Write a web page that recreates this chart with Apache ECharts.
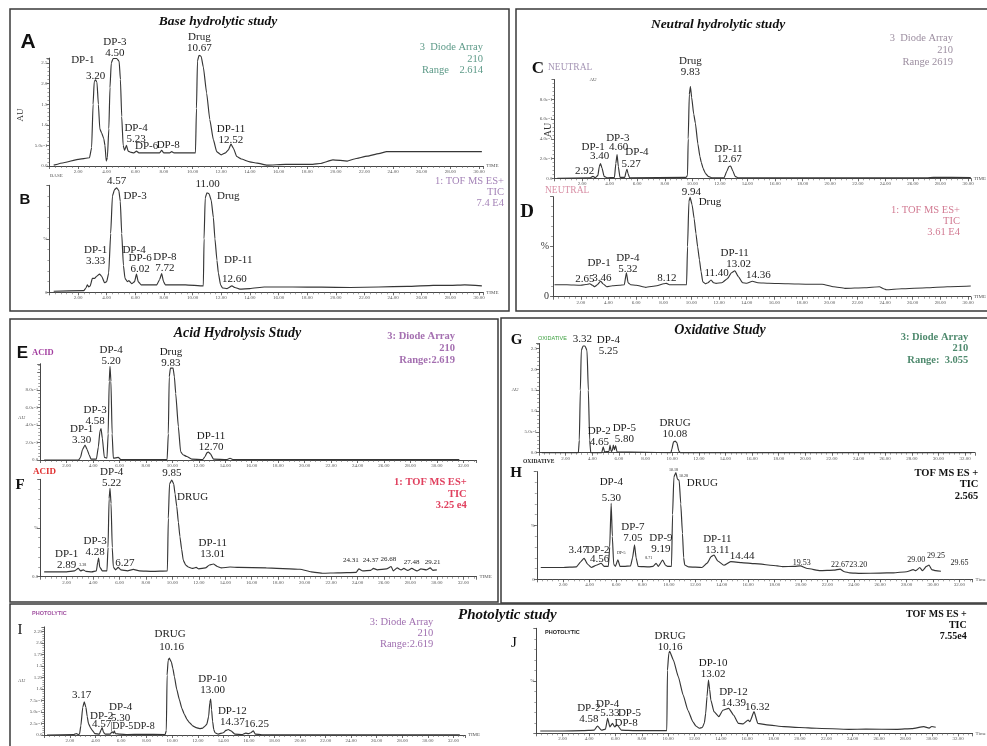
<!DOCTYPE html>
<html><head><meta charset="utf-8">
<script src="https://cdn.jsdelivr.net/npm/echarts@6/dist/echarts.min.js"></script>
<style>html,body{margin:0;padding:0;background:#fff}#c{width:987px;height:746px}</style>
</head><body><div id="c"></div>
<script>
// ---------- chromatogram traces: [retention time (min), response] ----------
const traceA = [[0.3,0.02],[1.0,0.08],[2.0,0.16],[2.8,0.2],[2.95,0.45],[3.05,1.5],[3.13,2.05],[3.22,2.09],[3.32,2.04],[3.42,1.5],[3.52,0.9],[3.65,0.8],[3.8,0.66],[3.88,0.5],[3.97,0.12],[4.05,0.2],[4.15,0.9],[4.23,1.9],[4.32,2.5],[4.45,2.61],[4.7,2.61],[4.87,2.54],[4.96,2.1],[5.05,1.2],[5.15,0.5],[5.25,0.38],[5.38,0.5],[5.5,0.36],[5.7,0.33],[5.9,0.32],[6.08,0.36],[6.25,0.32],[7.0,0.32],[7.7,0.32],[7.84,0.38],[7.98,0.32],[8.4,0.32],[8.54,0.35],[8.7,0.32],[10.2,0.32],[10.27,1.4],[10.34,2.55],[10.45,2.69],[10.6,2.66],[10.75,2.4],[10.98,1.77],[11.2,1.13],[11.45,0.64],[11.68,0.35],[12.0,0.27],[12.3,0.32],[12.5,0.39],[12.68,0.53],[12.85,0.43],[13.08,0.23],[13.4,0.17],[14.0,0.1],[14.5,0.07],[15.2,0.02],[16.5,0.04],[18.4,0.04],[18.9,0.06],[19.8,0.15],[20.8,0.12],[21.3,0.17],[22.2,0.24],[23.0,0.3],[23.55,0.35],[26,0.35],[30.2,0.35]];
const traceB = [[0.3,1],[2.4,1.5],[2.55,4],[2.65,7],[2.75,5],[2.85,6],[3.0,13],[3.15,13],[3.3,15],[3.5,17],[3.65,15],[3.85,9],[4.0,10],[4.14,18],[4.28,55],[4.4,90],[4.55,96],[4.7,97.6],[4.85,95],[4.95,85],[5.05,55],[5.17,25],[5.28,13],[5.45,10],[5.55,11],[5.75,8],[5.95,10],[6.08,17],[6.2,10],[6.4,7],[7.0,7],[7.5,7],[7.7,12],[7.84,17.5],[7.97,10],[8.1,7],[9.5,7],[10.75,6],[10.8,50],[10.88,88],[11.0,93],[11.15,92],[11.3,86],[11.45,70],[11.56,50],[11.7,30],[11.8,18],[11.95,7],[12.1,4],[12.4,3.5],[12.75,6],[12.95,4.5],[13.3,3],[14.0,3.5],[15,5],[17,5],[19,4.8],[21,4.5],[23,5],[25,5.5],[26.8,6.5],[28,6.5],[29,7],[30.2,6]];
const traceC = [[0.2,0],[2.6,0.005],[2.79,0.02],[2.95,0.005],[3.15,0.03],[3.25,0.12],[3.34,0.15],[3.45,0.1],[3.6,0.02],[3.8,0.005],[4.35,0.01],[4.45,0.15],[4.54,0.24],[4.63,0.12],[4.75,0.01],[5.1,0.01],[5.2,0.07],[5.26,0.09],[5.33,0.05],[5.45,0.005],[9.55,0.01],[9.65,0.03],[9.7,0.4],[9.78,0.85],[9.86,0.93],[9.95,0.82],[10.1,0.65],[10.22,0.56],[10.4,0.35],[10.55,0.22],[10.65,0.16],[10.78,0.1],[10.95,0.05],[11.15,0.02],[11.4,0.005],[12.3,0.005],[12.5,0.07],[12.65,0.12],[12.78,0.125],[12.95,0.07],[13.1,0.02],[13.3,0.005],[27,0.005],[27.5,0.01],[30.2,0.008]];
const traceD = [[0.1,12],[1,12],[2,11.5],[2.5,12.5],[2.65,13],[2.85,11.5],[3.0,10],[3.2,12],[3.44,15.7],[3.6,13],[3.87,10],[4.3,11],[4.8,11.5],[5.15,12],[5.3,24],[5.42,14],[5.6,12],[6.0,11.5],[6.7,9.4],[7.5,11],[8.0,13],[8.2,13.4],[8.4,12],[9.0,12],[9.65,12],[9.72,50],[9.82,95],[9.9,99.4],[10.05,92],[10.2,78],[10.33,63],[10.45,50],[10.58,37],[10.7,25],[10.82,15],[11.0,13],[11.2,14],[11.42,16.7],[11.6,14],[11.78,13.4],[12.2,14],[12.6,18],[12.9,24],[13.14,26],[13.4,20],[13.7,14],[14.0,13.5],[14.41,15.5],[14.8,14],[15.6,13.5],[17,13],[18.5,12.5],[19.45,12.5],[20.3,10],[21.1,8.4],[22.5,9],[23.6,10],[23.9,8],[24.1,7],[25.2,8],[27,9],[28.5,10],[30.2,10.7]];
const traceE = [[0.3,0],[2.9,0],[3.05,0.03],[3.2,0.12],[3.39,0.17],[3.55,0.12],[3.7,0.06],[3.85,0.01],[4.25,0.01],[4.4,0.15],[4.52,0.33],[4.6,0.36],[4.7,0.25],[4.85,0.03],[5.05,0.02],[5.14,0.3],[5.22,0.9],[5.28,1.07],[5.35,0.9],[5.44,0.3],[5.53,0.02],[5.9,0.03],[6.1,0.005],[9.6,0.005],[9.69,0.3],[9.76,0.95],[9.85,1.05],[10.05,1.05],[10.15,0.95],[10.25,0.76],[10.45,0.38],[10.62,0.095],[10.8,0.06],[11.08,0.04],[11.46,0.01],[12.3,0.005],[12.47,0.04],[12.62,0.085],[12.72,0.09],[12.88,0.07],[13.1,0.01],[14.1,0.005],[14.36,0.02],[14.6,0.005],[31.7,0.005]];
const traceF = [[0.3,5],[2.0,5],[2.6,6],[2.88,8.6],[3.05,6],[3.26,7],[3.45,5.5],[3.9,5],[4.25,6],[4.35,15],[4.42,19],[4.5,10],[4.7,6],[5.05,6],[5.13,30],[5.21,80],[5.28,90.7],[5.36,75],[5.45,30],[5.53,10],[5.7,7],[5.9,9.6],[6.1,7],[6.6,6],[7.04,7.5],[7.5,6],[8.5,5.5],[9.62,6],[9.69,60],[9.78,95],[9.95,99.3],[10.1,95],[10.2,85],[10.33,72],[10.45,56],[10.57,41],[10.7,28],[10.82,17],[11.0,12],[11.2,10],[11.5,8.5],[11.8,9.5],[12.0,8],[12.5,9],[12.8,12],[13.1,13],[13.4,10.5],[13.7,9],[14.36,10],[15,9.5],[17.1,9],[19.65,7.6],[20.5,5],[21.4,3.5],[22.5,4],[23.9,4.5],[24.1,8],[24.4,6],[25.0,6.5],[25.2,8.5],[25.5,7],[26.2,8],[26.55,10.5],[26.7,6],[27.0,9],[27.3,7],[27.5,8.5],[27.8,6.5],[28.1,8.5],[28.5,6],[28.8,8],[29.2,7],[29.5,9],[29.7,6.5],[30.0,7]];
const traceG = [[0.2,0],[2.95,0],[3.02,0.3],[3.1,1.5],[3.17,2.45],[3.3,2.56],[3.45,2.56],[3.6,2.45],[3.7,1.5],[3.8,0.3],[3.88,0],[4.7,0],[4.82,0.14],[4.92,0.02],[5.25,0.03],[5.33,0.18],[5.42,0.03],[5.5,0.05],[5.58,0.18],[5.66,0.07],[5.75,0.17],[5.85,0.02],[9.9,0],[9.97,0.08],[10.1,0.26],[10.22,0.28],[10.35,0.24],[10.5,0.04],[10.6,0],[32.5,0]];
const traceH = [[0.3,11],[2,11],[3.0,11.5],[3.3,16],[3.58,19.5],[3.85,14],[4.13,11],[4.5,13],[4.88,14.9],[5.1,12],[5.42,12],[5.52,30],[5.63,70.6],[5.72,40],[5.82,14],[5.95,12],[6.14,18],[6.3,12],[6.6,12],[7.1,12.5],[7.25,20],[7.4,31.9],[7.52,20],[7.67,12],[8.5,11.5],[8.8,12],[9.03,14.9],[9.2,12],[9.53,17.9],[9.75,13],[9.9,12],[10.2,12],[10.28,60],[10.38,95],[10.53,99],[10.65,93],[10.78,92],[10.9,70],[11.03,42.7],[11.12,20],[11.2,13.3],[11.5,11.5],[12.5,11],[12.9,15],[13.2,21],[13.42,22.6],[13.7,17],[14.17,13],[14.68,16.4],[15.5,15.5],[16.5,14.5],[18.2,12.5],[18.6,11.8],[19.5,12],[19.95,12.5],[20.5,10],[21.45,8],[22.5,8.5],[22.96,9.5],[23.3,7],[23.7,6],[24.5,5.5],[26,5.8],[27,6],[28.0,7],[28.5,9],[28.7,8],[29.0,11],[29.2,8],[29.5,12],[29.7,13.3],[29.9,9],[30.2,8],[30.6,7.5]];
const traceI = [[0.2,0],[2.3,0.01],[2.5,0.03],[2.65,0.01],[2.75,0.02],[2.85,0.2],[3.0,0.6],[3.12,0.72],[3.25,0.6],[3.35,0.4],[3.45,0.25],[3.6,0.16],[3.75,0.1],[3.95,0.03],[4.3,0.02],[4.42,0.1],[4.52,0.16],[4.62,0.06],[4.75,0.02],[5.15,0.02],[5.3,0.07],[5.4,0.04],[5.47,0.09],[5.55,0.03],[5.9,0.02],[6.5,0.01],[7.6,0.015],[9.45,0.01],[9.54,0.1],[9.6,1.3],[9.68,1.62],[9.77,1.67],[9.93,1.59],[10.05,1.45],[10.17,1.27],[10.35,1.0],[10.56,0.77],[10.75,0.58],[10.95,0.45],[11.15,0.34],[11.35,0.27],[11.6,0.2],[11.87,0.16],[12.15,0.14],[12.39,0.15],[12.55,0.19],[12.7,0.23],[12.85,0.4],[12.94,0.7],[13.01,0.78],[13.08,0.55],[13.16,0.3],[13.25,0.12],[13.35,0.05],[13.6,0.02],[14.0,0.05],[14.2,0.1],[14.39,0.12],[14.6,0.09],[14.9,0.02],[15.5,0.01],[15.75,0.04],[15.95,0.03],[16.15,0.05],[16.35,0.09],[16.5,0.02],[17,0.005],[32.5,0.005]];
const traceJ = [[0.3,2.2],[2,2.2],[3.5,2.5],[4.4,3],[4.64,7],[4.95,3],[5.25,4],[5.41,14.3],[5.58,6],[5.78,9.5],[5.95,6],[6.13,8],[6.45,3],[7.5,2.5],[9.9,2.5],[9.95,60],[10.05,76],[10.12,78],[10.4,69.8],[10.77,54],[11.14,36.5],[11.5,22],[11.88,11],[12.1,7],[12.37,4.8],[12.6,5.5],[12.75,10],[12.85,19],[12.95,35],[13.06,50.8],[13.15,42],[13.24,31.7],[13.48,20.6],[13.85,15.9],[14.15,22],[14.6,23.8],[14.96,17.4],[15.33,9.5],[15.7,9],[16.07,12.7],[16.2,11],[16.52,20.6],[16.8,9.5],[17.5,8],[18.8,6.3],[20,5.5],[21.26,4.8],[23.7,3.8],[25,4],[27.4,3.8],[28.5,4.5],[29.4,6.3],[29.8,5],[30.0,6.5],[30.3,5.7]];

// ---------- axis tick label texts ----------
const auHalfTicks = {'0':'0.0','0.5':'5.0e-1','1':'1.0','1.5':'1.5','2':'2.0','2.5':'2.5'};
const auFifthTicks = {'0':'0.0','0.2':'2.0e-1','0.4':'4.0e-1','0.6':'6.0e-1','0.8':'8.0e-1'};
const auQuarterTicks = {'0':'0.0','0.25':'2.5e-1','0.5':'5.0e-1','0.75':'7.5e-1','1':'1.0','1.25':'1.25','1.5':'1.5','1.75':'1.75','2':'2.0','2.25':'2.25'};
const pctTicks = {'0':'0','50':'%','100':'100'};
const pctTicksF = {'0':'0.0','50':'%','100':'100'};
const pctTicksJ = {'0':'','50':'%','100':'100'};

// ---------- peak annotations: [text, time, response] ----------
const labA = [['DP-1',2.33,2.56],['3.20',3.23,2.18],['DP-3\n4.50',4.58,2.87],['Drug\n10.67',10.47,2.99],['DP-4\n5.23',6.05,0.79],['DP-6',6.79,0.49],['DP-8',8.3,0.51],['DP-11\n12.52',12.68,0.77]];
const labB = [['4.57',4.7,104],['DP-3',5.98,90.3],['11.00',11.05,101],['Drug',12.49,90.3],['DP-1\n3.33',3.23,34],['DP-4',5.91,39.5],['DP-6\n6.02',6.33,26.5],['DP-8\n7.72',8.07,27.4],['DP-11',13.19,30.2],['12.60',12.91,12.1]];
const labC = [['Drug\n9.83',9.86,1.135],['DP-3',4.59,0.405],['DP-1',2.8,0.32],['4.60',4.65,0.32],['3.40',3.27,0.226],['DP-4',5.98,0.27],['5.27',5.55,0.145],['2.92',2.19,0.077],['DP-11',12.62,0.294],['12.67',12.69,0.192]];
const labD = [['9.94',9.99,105],['Drug',11.34,94.4],['DP-1',3.32,33.4],['2.65',2.29,17.7],['3.46',3.53,19],['DP-4\n5.32',5.4,32.9],['8.12',8.23,19],['11.40',11.82,23.4],['DP-11',13.13,43.4],['13.02',13.42,32.4],['14.36',14.85,21.7]];
const labE = [['DP-4\n5.20',5.36,1.19],['Drug\n9.83',9.89,1.17],['DP-3\n4.58',4.15,0.505],['DP-1\n3.30',3.13,0.295],['DP-11\n12.70',12.92,0.215]];
const labF = [['DP-4\n5.22',5.41,102],['9.85',9.95,106],['DRUG',11.53,82],['DP-3\n4.28',4.15,31],['DP-1\n2.89',2.0,17.1],['3.38',3.21,12,4],['6.27',6.41,14.4],['DP-11\n13.01',13.05,28.6],['24.31',23.49,17.1,7],['24.37',25.0,17.1,7],['26.68',26.33,17.8,7],['27.48',28.1,15.1,7],['29.21',29.69,15.1,7]];
const labG = [['3.32',3.25,2.73],['DP-4\n5.25',5.2,2.58],['DP-2\n4.65',4.52,0.396],['DP-5\n5.80',6.4,0.455],['DRUG\n10.08',10.21,0.58]];
const labH = [['DP-4',5.64,90],['5.30',5.64,75.8],['10.18',10.35,101.5,4],['10.28',11.1,95.9,4],['DRUG',12.54,89.7],['DP-7\n7.05',7.27,43.6],['DP-9\n9.19',9.4,33.5],['3.47',3.13,27.2],['DP-2',4.63,27.2],['4.56',4.76,18.8],['DP-5',6.39,24.1,4],['8.71',8.47,19.5,4],['DP-11\n13.11',13.67,31.8],['14.44',15.55,21.9],['19.53',20.07,14.9,8],['22.67',22.96,13.3,8],['23.20',24.34,13.3,8],['29.00',28.73,17.9,8],['29.25',30.23,21.6,8],['29.65',32.0,14.9,8]];
const labI = [['DRUG',9.83,2.2],['10.16',9.96,1.92],['DP-10\n13.00',13.17,1.09],['3.17',2.92,0.87],['DP-4',5.97,0.6],['DP-2',4.48,0.41],['5.30',5.97,0.36],['4.57',4.48,0.24],['|DP-5',6.05,0.18,10],['DP-8',7.8,0.18,10],['DP-12\n14.37',14.7,0.4],['16.25',16.61,0.24]];
const labJ = [['DRUG\n10.16',10.15,87.7],['DP-10\n13.02',13.41,61.5],['DP-12\n14.39',14.96,33.6],['16.32',16.77,24.8],['DP-2\n4.58',3.98,19],['DP-4',5.41,27.6],['5.33',5.59,19.6],['DP-5',7.07,19.6],['DP-8',6.81,9.5]];

// ---------- layout ----------
const panels = [
  {g:[49.4,58.1,433.9,107.9], xmax:30.3, ymax:2.62, yint:0.5, ticks:auHalfTicks, trace:traceA, labels:labA, time:'TIME'},
  {g:[49.4,185.3,433.9,107], xmax:30.3, ymax:100, yint:50, ticks:pctTicks, trace:traceB, labels:labB, time:'TIME'},
  {g:[554.5,79.55,420.1,98.75], xmax:30.2, ymax:1.0, yint:0.2, ticks:auFifthTicks, trace:traceC, labels:labC, time:'TIME'},
  {g:[553.1,196.7,420.7,100], xmax:30.2, ymax:100, yint:50, ticks:pctTicks, trace:traceD, labels:labD, time:'TIME', bigY:true},
  {g:[40.2,363.75,436.3,96.25], xmax:33, ymax:1.1, yint:0.2, ticks:auFifthTicks, trace:traceE, labels:labE, time:''},
  {g:[40.2,479.3,436.3,97.4], xmax:33, ymax:100, yint:50, ticks:pctTicksF, trace:traceF, labels:labF, time:'TIME'},
  {g:[539.1,343.5,435.9,109.2], xmax:32.75, ymax:2.62, yint:0.5, ticks:auHalfTicks, trace:traceG, labels:labG, time:''},
  {g:[536.8,471.6,438.2,107.7], xmax:33, ymax:100, yint:50, ticks:pctTicks, trace:traceH, labels:labH, time:'Time'},
  {g:[44.4,626.9,420.5,108.1], xmax:32.9, ymax:2.35, yint:0.25, ticks:auQuarterTicks, trace:traceI, labels:labI, time:'TIME'},
  {g:[536.3,628.3,446.9,105], xmax:33.1, ymax:100, yint:50, ticks:pctTicksJ, trace:traceJ, labels:labJ, time:'Time'}
];

const SERIF = '"Liberation Serif", "Times New Roman", serif';
const SANS = '"Liberation Sans", Arial, sans-serif';
const axisCol = '#474747';

const option = {
  animation:false,
  backgroundColor:'#ffffff',
  grid: panels.map(p=>({left:p.g[0], top:p.g[1], width:p.g[2], height:p.g[3], containLabel:false})),
  xAxis: panels.map((p,i)=>({
    gridIndex:i, type:'value', min:0, max:p.xmax, interval:2,
    axisLine:{onZero:false, lineStyle:{color:axisCol, width:1}},
    axisTick:{show:true, length:3, lineStyle:{color:axisCol, width:0.8}},
    minorTick:{show:true, splitNumber:5, length:2, lineStyle:{color:'#666', width:0.6}},
    splitLine:{show:false},
    axisLabel:{fontSize:5, color:'#555', margin:3, fontFamily:SERIF, showMaxLabel:false,
      formatter:v=> v===0 ? '' : v.toFixed(2)},
    name:p.time, nameLocation:'end', nameGap:3, nameTextStyle:{fontSize:5, color:'#555', fontFamily:SERIF}
  })),
  yAxis: panels.map((p,i)=>({
    gridIndex:i, type:'value', min:0, max:p.ymax, interval:p.yint,
    axisLine:{show:true, onZero:false, lineStyle:{color:axisCol, width:1}},
    axisTick:{show:true, length:3, lineStyle:{color:axisCol, width:0.8}},
    minorTick:{show:true, splitNumber:5, length:2, lineStyle:{color:'#666', width:0.6}},
    splitLine:{show:false},
    axisLabel:{fontSize:p.bigY?10:5, color:p.bigY?'#333':'#555', margin:p.bigY?4:2, fontFamily:SERIF, showMaxLabel:false,
      formatter:v=>{const k=String(Math.round(v*100)/100); return p.ticks[k]!==undefined ? p.ticks[k] : '';}}
  })),
  series: panels.map((p,i)=>({
    type:'line', xAxisIndex:i, yAxisIndex:i, data:p.trace, symbol:'none', showSymbol:false,
    smooth:0.15, smoothMonotone:'x', clip:false,
    lineStyle:{color:'#363636', width:1.15}
  }))
};

const chart = echarts.init(document.getElementById('c'), null, {renderer:'canvas'});
chart.setOption(option);

function txt(text, x, y, font, fill, align, valign, extra){
  return Object.assign({type:'text', x:x, y:y, silent:true, z:10,
    style:{text:text, font:font, fill:fill, align:align||'left', textAlign:align||'left',
      verticalAlign:valign||'middle', textVerticalAlign:valign||'middle', lineHeight:(extra&&extra.lh)||undefined}}, extra&&extra.el||{});
}
function rect(x,y,w,h){
  return {type:'rect', silent:true, z:5, shape:{x:x,y:y,width:w,height:h}, style:{fill:'none', stroke:'#3a3a3a', lineWidth:1.5}};
}
function block(lines, x, yTop, lh, font, fill){
  return txt(lines.join('\n'), x, yTop, font, fill, 'right', 'top', {lh:lh});
}

const g = [];
// panel frames
g.push(rect(10,9,499,302), rect(516,9,480,302), rect(10,319,488,283), rect(501,318,495,285), rect(10,604,985,160));
// titles
const tf = s=>'italic bold '+s+'px '+SERIF;
g.push(txt('Base hydrolytic study',218,22,tf(13.5),'#111','center'));
g.push(txt('Neutral hydrolytic study',718,25,tf(13.5),'#111','center'));
g.push(txt('Acid Hydrolysis Study',237.5,333.5,tf(14),'#111','center'));
g.push(txt('Oxidative Study',720,330,tf(14),'#111','center'));
g.push(txt('Photolytic study',458,615,tf(15),'#111','left'));
// panel letters
g.push(txt('A',28,42,'bold 21px '+SANS,'#111','center'));
g.push(txt('B',25,200,'bold 15px '+SANS,'#111','center'));
g.push(txt('C',538,69,'bold 17px '+SERIF,'#111','center'));
g.push(txt('D',527,212,'bold 19px '+SERIF,'#111','center'));
g.push(txt('E',22.5,353,'bold 17px '+SANS,'#111','center'));
g.push(txt('F',20,485,'bold 15px '+SERIF,'#111','center'));
g.push(txt('G',516.7,340,'bold 15px '+SERIF,'#111','center'));
g.push(txt('H',516,473,'bold 15px '+SERIF,'#111','center'));
g.push(txt('I',20,630,'15px '+SERIF,'#111','center'));
g.push(txt('J',514,643,'15px '+SERIF,'#111','center'));
// detector blocks
const bf = s=>s+'px '+SERIF, bbf = s=>'bold '+s+'px '+SERIF;
g.push(block(['3  Diode Array','210','Range    2.614'],483,41.5,11.5,bf(10.5),'#5d9a88'));
g.push(block(['1: TOF MS ES+','TIC','7.4 E4'],504,175.5,11.2,bf(10.5),'#a584b8'));
g.push(block(['3  Diode Array','210','Range 2619'],953,32.2,12.2,bf(10.5),'#9c8ea0'));
g.push(block(['1: TOF MS ES+','TIC','3.61 E4'],960,204.5,11,bf(10.5),'#d27b93'));
g.push(block(['3: Diode Array','210','Range:2.619'],455,330,12,bbf(10.5),'#a46fb0'));
g.push(block(['1: TOF MS ES+','TIC','3.25 e4'],466.7,477,11.2,bbf(10.5),'#e0405e'));
g.push(block(['3: Diode Array','210','Range:  3.055'],968.3,331,11.7,bbf(10.5),'#4f8a6e'));
g.push(block(['TOF MS ES +','TIC','2.565'],978.3,467.5,11.4,bbf(10.5),'#111'));
g.push(block(['3: Diode Array','210','Range:2.619'],433.3,617,10.7,bf(10.5),'#a070b0'));
g.push(block(['TOF MS ES +','TIC','7.55e4'],966.7,609.5,10.8,bbf(10),'#111'));
// small tags / axis captions
g.push(txt('BASE',50,176,'5px '+SERIF,'#555','left'));
g.push(txt('AU',21,115,'9px '+SERIF,'#333','center','middle',{el:{rotation:Math.PI/2}}));
g.push(txt('NEUTRAL',548,67,'9.5px '+SERIF,'#a595b5','left'));
g.push(txt('AU',593,80,'5px '+SERIF,'#555','center'));
g.push(txt('AU',548,130,'10px '+SERIF,'#333','center','middle',{el:{rotation:Math.PI/2}}));
g.push(txt('NEUTRAL',545,190,'9.5px '+SERIF,'#d88fa5','left'));
g.push(txt('ACID',32,353,'bold 8.5px '+SERIF,'#a33fa0','left'));
g.push(txt('AU',21.7,417.7,'5px '+SERIF,'#555','center'));
g.push(txt('ACID',33,471.7,'bold 9px '+SERIF,'#e03030','left'));
g.push(txt('OXIDATIVE',538,338,'5.5px '+SANS,'#3da040','left'));
g.push(txt('AU',515,390,'5px '+SERIF,'#555','center'));
g.push(txt('OXIDATIVE',523,461.7,'bold 5.5px '+SERIF,'#222','left'));
g.push(txt('PHOTOLYTIC',32,613,'bold 5.5px '+SANS,'#a050a0','left'));
g.push(txt('AU',21.7,680.7,'5px '+SERIF,'#555','center'));
g.push(txt('PHOTOLYTIC',545,632.3,'bold 5.5px '+SANS,'#222','left'));
// peak labels placed through each panel's own scales
panels.forEach((p,i)=>{
  p.labels.forEach(l=>{
    const pt = chart.convertToPixel({gridIndex:i},[l[1],l[2]]);
    const fs = l[3]||11;
    g.push(txt(l[0], pt[0], pt[1], fs+'px '+SERIF, '#1c1c1c', 'center', 'middle', {lh:Math.round(fs*1.0)}));
  });
});
chart.setOption({graphic:{elements:g}});
</script></body></html>
